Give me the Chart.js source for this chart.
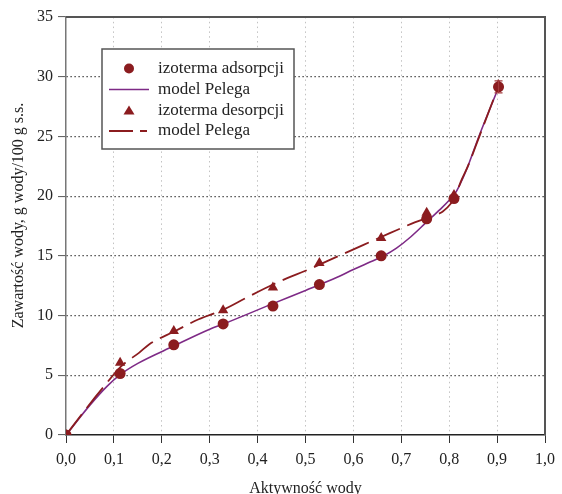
<!DOCTYPE html>
<html>
<head>
<meta charset="utf-8">
<script src="https://cdn.jsdelivr.net/npm/chart.js@4/dist/chart.umd.min.js"></script>
<style>
  html, body { margin: 0; padding: 0; background: #fff; }
  #wrap { width: 562px; height: 494px; position: relative; }
</style>
</head>
<body>
<div id="wrap"><canvas id="c" width="562" height="494"></canvas></div>
<script>
// ---- data ----
const aw = [0, 0.113, 0.225, 0.328, 0.432, 0.529, 0.658, 0.753, 0.81, 0.903];
const adsorption = [0, 5.15, 7.55, 9.3, 10.8, 12.6, 15.0, 18.1, 19.8, 29.15];
const desorption = [0, 6.05, 8.7, 10.45, 12.35, 14.4, 16.5, 18.6, 20.1, 29.3];
const adsorptionErr = [0, 0, 0, 0, 0, 0, 0, 0, 0, 0.5];

const adsModelX = [0, 0.05, 0.085, 0.113, 0.15, 0.225, 0.3, 0.329, 0.432, 0.5, 0.566, 0.6, 0.63, 0.663, 0.69, 0.72, 0.752, 0.78, 0.8, 0.815, 0.835, 0.862, 0.9];
const adsModelY = [0, 2.5, 4.05, 5.05, 6.0, 7.45, 8.85, 9.3, 11.0, 12.1, 13.2, 13.85, 14.4, 15.0, 15.65, 16.6, 17.8, 18.85, 19.65, 20.4, 22.1, 25.0, 28.8];

const desModelX = [0, 0.04, 0.08, 0.115, 0.153, 0.174, 0.225, 0.277, 0.329, 0.377, 0.432, 0.463, 0.5, 0.566, 0.62, 0.676, 0.728, 0.762, 0.786, 0.804, 0.814, 0.824, 0.84, 0.862, 0.9];
const desModelY = [0, 2.1, 4.1, 5.75, 6.9, 7.6, 8.65, 9.69, 10.5, 11.5, 12.6, 13.15, 13.75, 14.93, 15.9, 16.9, 17.8, 18.3, 18.7, 19.4, 20.1, 21.2, 22.6, 24.9, 28.9];

const xTickLabels = ['0,0','0,1','0,2','0,3','0,4','0,5','0,6','0,7','0,8','0,9','1,0'];
const yTickLabels = ['0','5','10','15','20','25','30','35'];
const legendLabels = ['izoterma adsorpcji', 'model Pelega', 'izoterma desorpcji', 'model Pelega'];
const xTitle = 'Aktywność wody';
const yTitle = 'Zawartość wody, g wody/100 g s.s.';

const MARK = '#8b1c1f';
const PURPLE = '#7e2a86';
const FONT = "'Liberation Serif', 'Times New Roman', serif";

const toXY = (xs, ys) => xs.map((x, i) => ({x: x, y: ys[i]}));

const framePlugin = {
  id: 'frame',
  afterDraw(chart) {
    const {ctx, chartArea: a, scales} = chart;
    ctx.save();
    // top and right borders
    ctx.strokeStyle = '#555';
    ctx.lineWidth = 2;
    ctx.beginPath();
    ctx.moveTo(a.left, a.top);
    ctx.lineTo(a.right, a.top);
    ctx.lineTo(a.right, a.bottom);
    ctx.stroke();
    // error bars
    ctx.strokeStyle = '#a33a3c';
    ctx.lineWidth = 1.2;
    aw.forEach((x, i) => {
      const e = adsorptionErr[i];
      if (!e) return;
      const px = scales.x.getPixelForValue(x);
      const y1 = scales.y.getPixelForValue(adsorption[i] - e);
      const y2 = scales.y.getPixelForValue(adsorption[i] + e);
      ctx.beginPath();
      ctx.moveTo(px, y1); ctx.lineTo(px, y2);
      ctx.moveTo(px - 4, y1); ctx.lineTo(px + 4, y1);
      ctx.moveTo(px - 4, y2); ctx.lineTo(px + 4, y2);
      ctx.stroke();
    });
    // y axis title
    ctx.save();
    ctx.fillStyle = '#222';
    ctx.font = '16px ' + FONT;
    ctx.translate(23, 215.5);
    ctx.rotate(-Math.PI / 2);
    ctx.textAlign = 'center';
    ctx.textBaseline = 'alphabetic';
    ctx.fillText(yTitle, 0, 0);
    ctx.restore();
    // legend
    const bx = 102, by = 49, bw = 192, bh = 100;
    ctx.fillStyle = '#fff';
    ctx.fillRect(bx, by, bw, bh);
    ctx.strokeStyle = '#555';
    ctx.lineWidth = 1.5;
    ctx.strokeRect(bx, by, bw, bh);
    const rows = [68.5, 89.5, 110.5, 131];
    ctx.fillStyle = MARK;
    ctx.beginPath(); ctx.arc(129, rows[0], 5, 0, Math.PI * 2); ctx.fill();
    ctx.strokeStyle = PURPLE; ctx.lineWidth = 1.5;
    ctx.beginPath(); ctx.moveTo(109, rows[1]); ctx.lineTo(149, rows[1]); ctx.stroke();
    ctx.fillStyle = MARK;
    ctx.beginPath();
    ctx.moveTo(129, rows[2] - 5); ctx.lineTo(134.5, rows[2] + 4); ctx.lineTo(123.5, rows[2] + 4);
    ctx.closePath(); ctx.fill();
    ctx.strokeStyle = MARK; ctx.lineWidth = 1.8;
    ctx.beginPath();
    ctx.moveTo(109, rows[3]); ctx.lineTo(133, rows[3]);
    ctx.moveTo(140, rows[3]); ctx.lineTo(147, rows[3]);
    ctx.stroke();
    ctx.fillStyle = '#222';
    ctx.font = '17px ' + FONT;
    ctx.textBaseline = 'middle';
    ctx.textAlign = 'left';
    legendLabels.forEach((t, i) => ctx.fillText(t, 158, rows[i]));
    ctx.restore();
  }
};

new Chart(document.getElementById('c'), {
  type: 'scatter',
  data: {
    datasets: [
      {
        type: 'line', label: legendLabels[1], data: toXY(adsModelX, adsModelY),
        borderColor: PURPLE, borderWidth: 1.6, pointRadius: 0, fill: false,
        cubicInterpolationMode: 'monotone', order: 3
      },
      {
        type: 'line', label: legendLabels[3], data: toXY(desModelX, desModelY),
        borderColor: MARK, borderWidth: 1.8, pointRadius: 0, fill: false,
        borderDash: [26, 8], cubicInterpolationMode: 'monotone', order: 2
      },
      {
        label: legendLabels[2], data: toXY(aw, desorption),
        pointStyle: 'triangle', pointRadius: 6, backgroundColor: MARK, borderColor: MARK,
        borderWidth: 0, order: 1
      },
      {
        label: legendLabels[0], data: toXY(aw, adsorption),
        pointStyle: 'circle', pointRadius: 5.5, backgroundColor: MARK, borderColor: MARK,
        borderWidth: 0, order: 0
      }
    ]
  },
  options: {
    responsive: false,
    animation: false,
    devicePixelRatio: 1,
    layout: { padding: { top: 17, right: 12, left: 0, bottom: 0 } },
    plugins: { legend: { display: false }, tooltip: { enabled: false } },
    scales: {
      x: {
        type: 'linear', min: 0, max: 1,
        afterFit: s => { s.height = 59; },
        afterBuildTicks: s => { s.ticks = xTickLabels.map((_, i) => ({value: i / 10})); },
        ticks: {
          callback: (v, i) => xTickLabels[i],
          color: '#222', font: { family: FONT, size: 16 }, padding: 7, maxRotation: 0
        },
        grid: {
          color: ctx => (ctx.index === 0 || ctx.index === xTickLabels.length - 1) ? 'rgba(0,0,0,0)' : '#c2c2c2',
          lineWidth: 1, tickLength: 8, tickColor: '#333', tickWidth: 1
        },
        border: { display: true, color: '#222', width: 1.5, dash: [1.5, 3.3] },
        title: {
          display: true, text: xTitle, color: '#222',
          font: { family: FONT, size: 16 }, padding: { top: 0, bottom: -4 }
        }
      },
      y: {
        type: 'linear', min: 0, max: 35,
        afterFit: s => { s.width = 66; },
        afterBuildTicks: s => { s.ticks = yTickLabels.map(t => ({value: Number(t)})); },
        ticks: {
          callback: (v, i) => yTickLabels[i],
          color: '#222', font: { family: FONT, size: 16 }, padding: 5
        },
        grid: {
          color: ctx => (ctx.index === 0 || ctx.index === yTickLabels.length - 1) ? 'rgba(0,0,0,0)' : '#222',
          lineWidth: 1.2, tickLength: 8, tickColor: '#555', tickWidth: 1
        },
        border: { display: true, color: '#777', width: 1.5, dash: [1.2, 2.8] },
        title: { display: false }
      }
    }
  },
  plugins: [framePlugin]
});
</script>
</body>
</html>
